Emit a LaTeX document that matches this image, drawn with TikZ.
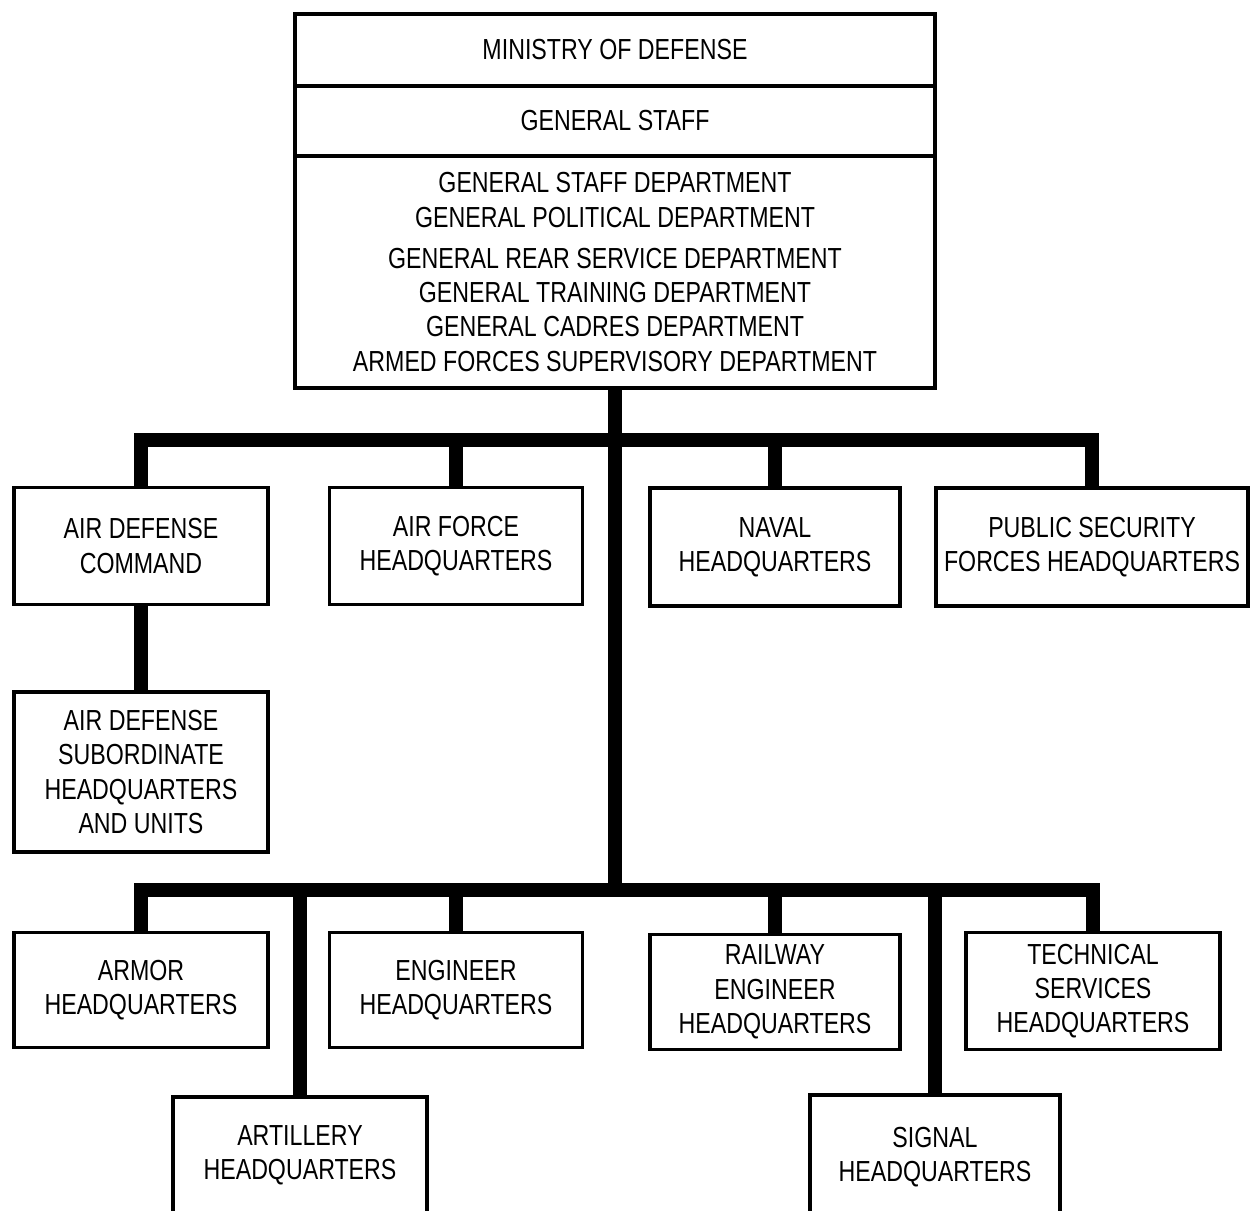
\documentclass[tikz,border=0pt]{standalone}
\usepackage{fontspec}
\setmainfont{Liberation Sans}[FakeStretch=0.8]
\tikzstyle{unit}=[draw, line width=2.2pt, align=center, inner sep=0pt, font=\fontsize{16.5}{19.5}\selectfont]
\tikzstyle{link}=[line width=8pt]

\begin{document}
\begin{tikzpicture}[x=0.02cm, y=-0.02cm]
    \useasboundingbox (0,0) rectangle (1250,1210);
    \clip (0,0) rectangle (1250,1210);
    % top block
    \node[unit, minimum width=12.8cm, minimum height=1.44cm] (mod) at (615, 50) {MINISTRY OF DEFENSE};
    \node[unit, minimum width=12.8cm, minimum height=1.4cm] (gs) at (615, 121) {GENERAL STAFF};
    \node[unit, minimum width=12.8cm, minimum height=4.64cm] (depts) at (615, 272) {GENERAL STAFF DEPARTMENT\\
      GENERAL POLITICAL DEPARTMENT\\[4pt]
      GENERAL REAR SERVICE DEPARTMENT\\
      GENERAL TRAINING DEPARTMENT\\
      GENERAL CADRES DEPARTMENT\\
      ARMED FORCES SUPERVISORY DEPARTMENT};
    % upper row
    \node[unit, minimum width=5.08cm, minimum height=2.34cm] (adc) at (141, 546) {AIR DEFENSE\\COMMAND};
    \node[unit, minimum width=5.06cm, minimum height=2.34cm] (afh) at (456, 546) {AIR FORCE\\HEADQUARTERS};
    \node[unit, minimum width=5.0cm, minimum height=2.36cm] (nav) at (775, 547) {NAVAL\\HEADQUARTERS};
    \node[unit, minimum width=6.24cm, minimum height=2.36cm] (psf) at (1092, 547) {PUBLIC SECURITY\\FORCES HEADQUARTERS};
    \node[unit, minimum width=5.08cm, minimum height=3.2cm] (ads) at (141, 772) {AIR DEFENSE\\SUBORDINATE\\HEADQUARTERS\\AND UNITS};
    % lower rows
    \node[unit, minimum width=5.08cm, minimum height=2.3cm] (arm) at (141, 990) {ARMOR\\HEADQUARTERS};
    \node[unit, minimum width=5.06cm, minimum height=2.3cm] (eng) at (456, 990) {ENGINEER\\HEADQUARTERS};
    \node[unit, minimum width=5.0cm, minimum height=2.3cm] (rwy) at (775, 992) {RAILWAY\\ENGINEER\\HEADQUARTERS};
    \node[unit, minimum width=5.08cm, minimum height=2.34cm] (tec) at (1093, 991) {TECHNICAL\\SERVICES\\HEADQUARTERS};
    \node[unit, minimum width=5.08cm, minimum height=2.32cm] (art) at (300, 1155) {ARTILLERY\\HEADQUARTERS};
    \node[unit, minimum width=5.0cm, minimum height=2.48cm] (sig) at (935, 1157) {SIGNAL\\HEADQUARTERS};
    \coordinate (upbus) at (615, 440);
    \coordinate (lowbus) at (615, 890);
    % connectors
    \draw[link] (depts) -- (lowbus);
    \draw[link] (adc) |- (upbus) -| (psf);
    \draw[link] (afh) -- (afh |- upbus);
    \draw[link] (nav) -- (nav |- upbus);
    \draw[link] (adc) -- (ads);
    \draw[link] (arm) |- (lowbus) -| (tec);
    \draw[link] (art) -- (art |- lowbus);
    \draw[link] (eng) -- (eng |- lowbus);
    \draw[link] (rwy) -- (rwy |- lowbus);
    \draw[link] (sig) -- (sig |- lowbus);
\end{tikzpicture}
\end{document}
